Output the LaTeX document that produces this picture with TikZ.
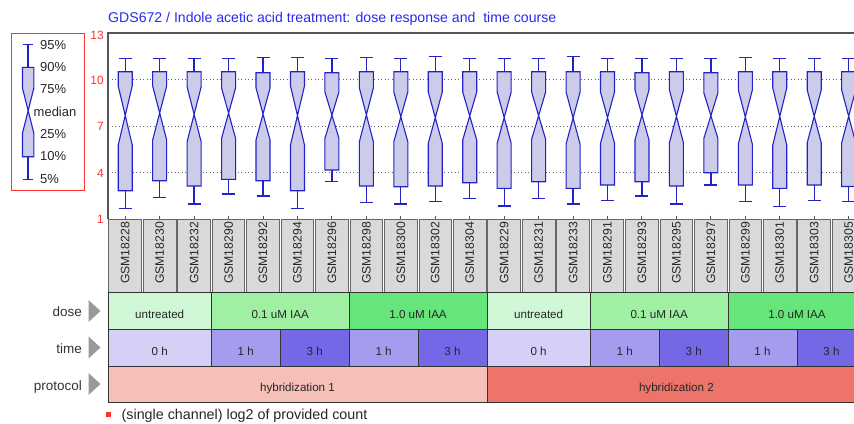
\documentclass[tikz,border=0pt]{standalone}
\usepackage{fontspec}
\setmainfont{Liberation Sans}
\definecolor{bxfill}{RGB}{204,204,234}
\definecolor{bxline}{RGB}{34,34,200}
\definecolor{framec}{RGB}{85,85,85}
\definecolor{gridc}{RGB}{100,100,100}
\definecolor{axred}{RGB}{255,51,51}
\definecolor{ttlblue}{RGB}{40,40,240}
\definecolor{lblgray}{RGB}{217,217,217}
\definecolor{dUn}{RGB}{208,248,214}
\definecolor{dLo}{RGB}{160,240,164}
\definecolor{dHi}{RGB}{102,230,122}
\definecolor{tZero}{RGB}{212,208,248}
\definecolor{tOne}{RGB}{165,156,240}
\definecolor{tThree}{RGB}{116,104,230}
\definecolor{hA}{RGB}{244,192,184}
\definecolor{hB}{RGB}{236,116,104}
\definecolor{arrgray}{RGB}{153,153,153}
\tikzset{
 whisk/.style={draw=bxline, line width=1.3pt},
 bxshape/.style={fill=bxfill, draw=bxline, line width=1.1pt, line join=miter},
 samp/.style={font=\fontsize{12.2}{14}\selectfont, text=black!85, inner sep=0pt, rotate=90},
 celltxt/.style={font=\fontsize{11.6}{13}\selectfont, text=black!85, inner sep=0pt, anchor=base},
 cellbox/.style={draw=black!80, line width=0.8pt},
 rowlbl/.style={font=\fontsize{13.5}{15}\selectfont, text=black!80, anchor=base east, inner sep=0pt},
 axlbl/.style={font=\fontsize{12}{14}\selectfont, text=axred, anchor=east, inner sep=0pt},
 leglbl/.style={font=\fontsize{13}{15}\selectfont, text=black!85, anchor=west, inner sep=0pt},
 gridln/.style={draw=gridc, line width=1pt, dash pattern=on 1.3pt off 2.2pt},
 rowarrow/.style={fill=arrgray, draw=none},
}
\newcommand{\mycell}[7]{%
 \path[cellbox, fill=#6] ({108+34.45*#2},#4) rectangle ({108+34.45*#3},#5);
 \node[celltxt] (#1) at ({108+34.45*(#2+#3)/2},{(#4+#5)/2+7.8}) {#7};
}
\begin{document}
\begin{tikzpicture}[x=1pt,y=-1pt]
\useasboundingbox (0,0) rectangle (854,423);
\clip (0,0) rectangle (854,423);
% title
\node[font=\fontsize{14.1}{16}\selectfont, text=ttlblue, anchor=base west, inner sep=0pt] (title) at (108,22) {GDS672 / Indole acetic acid treatment: dose response and \ time course};
% legend box
\draw[draw=axred, line width=1.2pt] (11.7,33.3) rectangle (84.3,190.7);
\draw[whisk] (22.7,44.7) -- (33.3,44.7);
\draw[whisk] (28,44.7) -- (28,67.3);
\draw[whisk] (28,156.7) -- (28,179.3);
\draw[whisk] (22.7,179.3) -- (33.3,179.3);
\filldraw[bxshape] (22.5,67.3) -- (33.8,67.3) -- (33.8,88.3) -- (22.5,133) -- (22.5,156.7) -- (33.8,156.7) -- (33.8,133) -- (22.5,88.3) -- cycle;
\node[leglbl] (l95) at (40,44.7) {95\%};
\node[leglbl] (l90) at (40,66.7) {90\%};
\node[leglbl] (l75) at (40,89.3) {75\%};
\node[leglbl] (lmed) at (33.5,111.7) {median};
\node[leglbl] (l25) at (40,134) {25\%};
\node[leglbl] (l10) at (40,156) {10\%};
\node[leglbl] (l5) at (40,179.3) {5\%};
% axis labels
\node[axlbl] (a13) at (104,35) {13};
\node[axlbl] (a10) at (104,80) {10};
\node[axlbl] (a7) at (104,126.5) {7};
\node[axlbl] (a4) at (104,173) {4};
\node[axlbl] (a1) at (104,219) {1};
% grid lines
\foreach \gy in {79.5,126,172.5} \draw[gridln] (108,\gy) -- (854,\gy);
% frame
\draw[draw=framec, line width=1.5pt] (108,219) -- (108,33) -- (856,33);
% boxes
\foreach \i/\wt/\bt/\na/\nb/\bb/\wb in {
0/58.3/71.7/86/145/190.7/208.3,
1/58.3/71.7/86/140/180.7/197.3,
2/58.3/71.7/87/141.7/186/204,
3/58.3/71.7/88/138.3/179.3/194,
4/57.3/72.7/88/140/180.7/196,
5/57.3/71.7/86/145/190.7/208.3,
6/58.3/72.7/92/138.3/170/181.7,
7/57.3/71.7/88/141.7/186/202.7,
8/58.3/71.7/92/141.7/186.7/204,
9/56.7/71.7/92/143.3/186/201.7,
10/58.3/71.7/92/140/182.7/198.3,
11/58.3/71.7/92/143.3/188.3/206,
12/58.3/71.7/92/139.3/181.7/198.3,
13/56.7/71.7/92/144/188.3/204,
14/58.3/71.7/92/143.3/185/200.7,
15/58.3/72.7/90/140/181.7/196,
16/58.3/71.7/90/142.7/186/204,
17/58.3/72.7/93/138.3/172.7/185,
18/57.3/71.7/90/144/185/201.7,
19/58.3/71.7/88/145/188.3/206.3,
20/58.3/71.7/90/142.7/185/200.7,
21/58.3/71.7/90/142.7/186.5/201.7}{
 \pgfmathsetmacro{\cx}{108+34.45*(\i+0.5)}
 \draw[whisk] ({\cx-6.5},\wt) -- ({\cx+6.5},\wt);
 \draw[whisk] (\cx,\wt) -- (\cx,\bt);
 \draw[whisk] (\cx,\bb) -- (\cx,\wb);
 \draw[whisk] ({\cx-6.5},\wb) -- ({\cx+6.5},\wb);
 \filldraw[bxshape] ({\cx-7},\bt) -- ({\cx+7},\bt) -- ({\cx+7},\na) -- ({\cx-7},\nb) -- ({\cx-7},\bb) -- ({\cx+7},\bb) -- ({\cx+7},\nb) -- ({\cx-7},\na) -- cycle;
 \draw[draw=framec, line width=1pt] (\cx,215.5) -- (\cx,219);
}
% sample labels
\foreach \i/\s in {0/18228,1/18230,2/18232,3/18290,4/18292,5/18294,6/18296,7/18298,8/18300,9/18302,10/18304,11/18229,12/18231,13/18233,14/18291,15/18293,16/18295,17/18297,18/18299,19/18301,20/18303,21/18305}{
 \pgfmathsetmacro{\xl}{108+34.45*\i+0.9}
 \pgfmathsetmacro{\xr}{108+34.45*(\i+1)-0.9}
 \pgfmathsetmacro{\cx}{108+34.45*(\i+0.5)}
 \path[draw=black!60, line width=0.9pt, fill=lblgray] (\xl,219.8) rectangle (\xr,292);
 \node[samp] (s\i) at (\cx,253) {GSM\s};
}
% dose row
\mycell{d1}{0}{3}{292.5}{329}{dUn}{untreated}
\mycell{d2}{3}{7}{292.5}{329}{dLo}{0.1 uM IAA}
\mycell{d3}{7}{11}{292.5}{329}{dHi}{1.0 uM IAA}
\mycell{d4}{11}{14}{292.5}{329}{dUn}{untreated}
\mycell{d5}{14}{18}{292.5}{329}{dLo}{0.1 uM IAA}
\mycell{d6}{18}{22}{292.5}{329}{dHi}{1.0 uM IAA}
% time row
\mycell{t1}{0}{3}{329}{366}{tZero}{0 h}
\mycell{t2}{3}{5}{329}{366}{tOne}{1 h}
\mycell{t3}{5}{7}{329}{366}{tThree}{3 h}
\mycell{t4}{7}{9}{329}{366}{tOne}{1 h}
\mycell{t5}{9}{11}{329}{366}{tThree}{3 h}
\mycell{t6}{11}{14}{329}{366}{tZero}{0 h}
\mycell{t7}{14}{16}{329}{366}{tOne}{1 h}
\mycell{t8}{16}{18}{329}{366}{tThree}{3 h}
\mycell{t9}{18}{20}{329}{366}{tOne}{1 h}
\mycell{t10}{20}{22}{329}{366}{tThree}{3 h}
% protocol row
\mycell{p1}{0}{11}{366}{402.3}{hA}{hybridization 1}
\mycell{p2}{11}{22}{366}{402.3}{hB}{hybridization 2}
% row labels
\node[rowlbl] (rdose) at (82,316.8) {dose};
\node[rowlbl] (rtime) at (82,353.3) {time};
\node[rowlbl] (rprot) at (82,390) {protocol};
\path[rowarrow] (88.5,300) -- (100.5,311) -- (88.5,322) -- cycle;
\path[rowarrow] (88.5,336.5) -- (100.5,347.5) -- (88.5,358.5) -- cycle;
\path[rowarrow] (88.5,373) -- (100.5,384) -- (88.5,395) -- cycle;
% footnote
\path[fill=axred] (106.3,411.7) rectangle (111.2,416.7);
\node[font=\fontsize{14.3}{16}\selectfont, text=black!85, anchor=base west, inner sep=0pt] (note) at (121.5,419.5) {(single channel) log2 of provided count};
\end{tikzpicture}
\end{document}
